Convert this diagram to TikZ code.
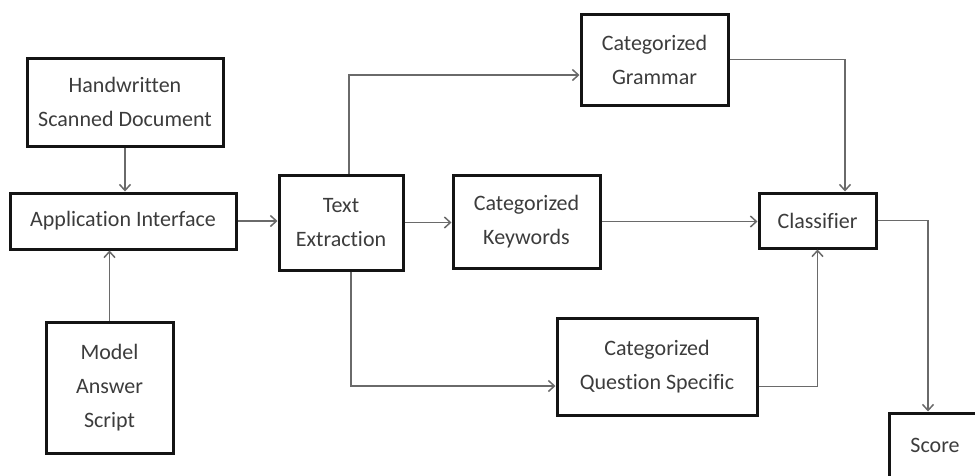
\documentclass[tikz,border=0pt]{standalone}
\usepackage{fontspec}
\setmainfont{Carlito}[Ligatures={NoCommon,NoContextual}]
\usetikzlibrary{arrows.meta}
\definecolor{txt}{HTML}{3C3C3C}
\definecolor{ln}{HTML}{6A6A6A}
\begin{document}
\begin{tikzpicture}[x=1pt,y=-1pt,
  box/.style={draw=black!92, line width=3pt, rectangle, align=center, text=txt,
    font=\fontsize{22}{34}\selectfont, inner sep=0pt},
  arr/.style={draw=ln, line width=1.6pt, -{Straight Barb[length=6pt,width=11pt,line width=1.5pt]}}]
\useasboundingbox (0,0) rectangle (975,475);
\clip (0,0) rectangle (975,475);
\node[box, minimum width=196pt, minimum height=88pt] (hsd) at (125,102) {Handwritten\\Scanned Document};
\node[box, minimum width=226pt, minimum height=56pt] (app) at (123,221) {Application Interface};
\node[box, minimum width=127pt, minimum height=131pt] (model) at (109.5,387.5) {Model\\Answer\\Script};
\node[box, minimum width=124pt, minimum height=95pt] (text) at (341,222.5) {Text\\Extraction};
\node[box, minimum width=147pt, minimum height=91pt] (gram) at (654.5,59.5) {Categorized\\Grammar};
\node[box, minimum width=147pt, minimum height=93pt] (kw) at (526.5,221.5) {Categorized\\Keywords};
\node[box, minimum width=117pt, minimum height=55pt] (cls) at (817.5,220.5) {Classifier};
\node[box, minimum width=200pt, minimum height=97pt] (qs) at (657,366.5) {Categorized\\Question Specific};
\node[box, minimum width=92pt, minimum height=64pt] (score) at (935,445) {Score};

\draw[arr] (hsd.south) -- (hsd.south |- app.north);
\draw[arr] (model.north) -- (model.north |- app.south);
\draw[arr] (app.east) -- (app.east -| text.west);
\draw[arr] ([xshift=8pt]text.north) |- ([yshift=-15.5pt]gram.west);
\draw[arr] (text.east) -- (text.east -| kw.west);
\draw[arr] ([xshift=10pt]text.south) |- ([yshift=-19.5pt]qs.west);
\draw[arr] (kw.east) -- (kw.east -| cls.west);
\draw[arr] (gram.east) -| ([xshift=27.5pt]cls.north);
\draw[arr] ([yshift=-20pt]qs.east) -| (cls.south);
\draw[arr] (cls.east) -| ([xshift=-7pt]score.north);
\end{tikzpicture}
\end{document}
